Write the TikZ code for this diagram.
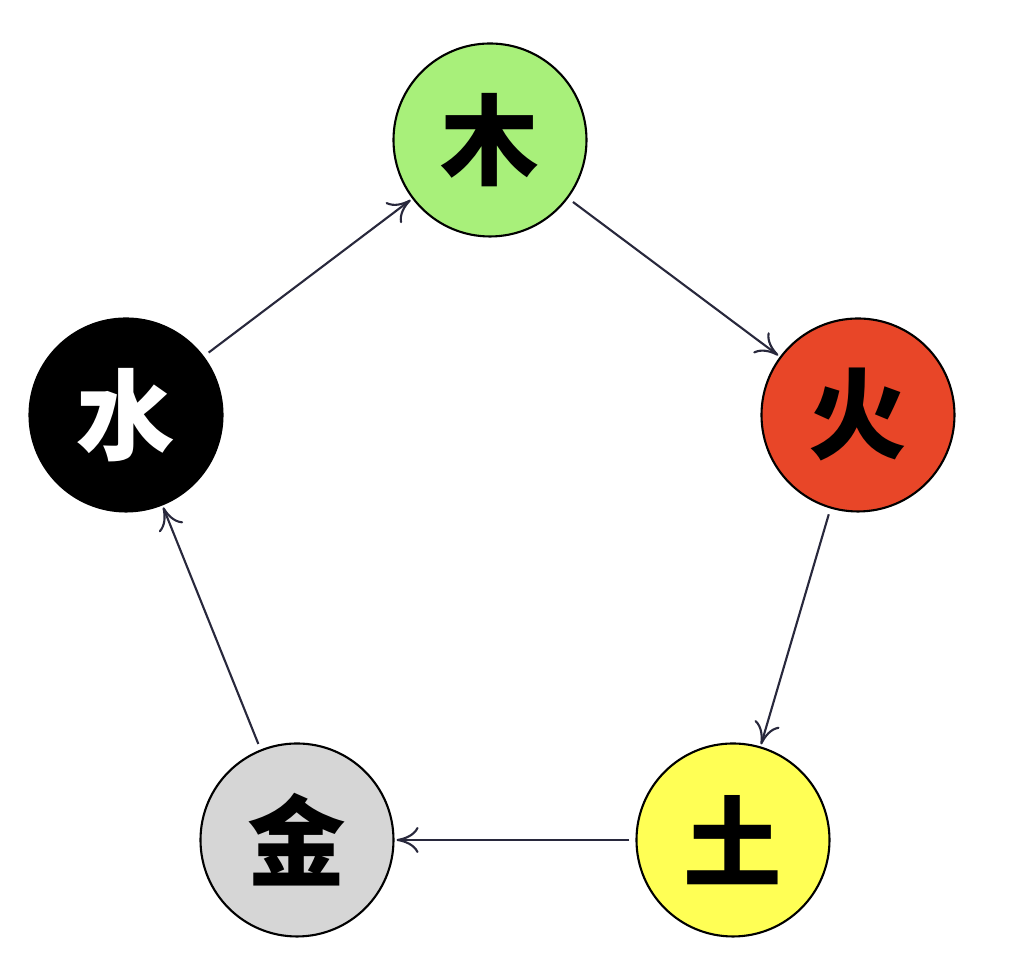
\documentclass[tikz,border=0pt]{standalone}
\usepackage{fontspec}
\newfontfamily\cjk{Noto Sans CJK SC}
\usepackage{xcolor}
\usepackage{tikz}
\usetikzlibrary{arrows.meta}
\definecolor{wood}{RGB}{168,240,122}
\definecolor{fire}{RGB}{232,70,40}
\definecolor{earth}{RGB}{255,255,85}
\definecolor{metal}{RGB}{214,214,214}
\definecolor{linecol}{RGB}{40,40,60}

\begin{document}
\begin{tikzpicture}[
  elem/.style={draw, circle, line width=0.6pt, minimum size=1.93cm, inner sep=0pt,
    font=\cjk\bfseries\fontsize{28}{28}\selectfont},
  arr/.style={-{To[length=2.2mm, width=2.6mm]}, line width=0.6pt, draw=linecol,
    shorten <=0.06cm, shorten >=0.02cm}]
\useasboundingbox (0,0) rectangle (10.15,9.76);
\node[elem, fill=wood]  (mu)   at (4.90,8.36) {木};
\node[elem, fill=fire]  (huo)  at (8.58,5.61) {火};
\node[elem, fill=earth] (tu)   at (7.33,1.36) {土};
\node[elem, fill=metal] (jin)  at (2.97,1.36) {金};
\node[elem, fill=black, text=white] (shui) at (1.26,5.61) {水};
\draw[arr] (mu) -- (huo); \draw[arr] (huo) -- (tu); \draw[arr] (tu) -- (jin);
\draw[arr] (jin) -- (shui); \draw[arr] (shui) -- (mu);
\end{tikzpicture}
\end{document}
